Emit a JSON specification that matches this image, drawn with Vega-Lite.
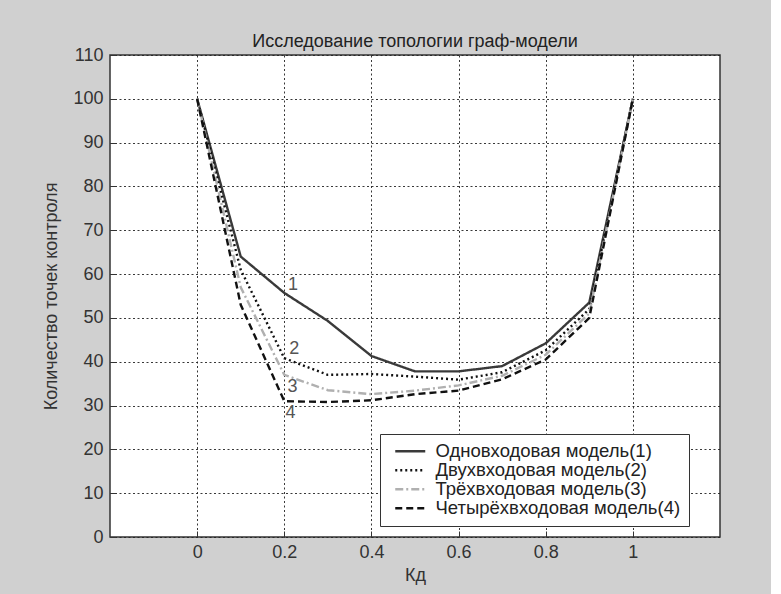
{
  "$schema": "https://vega.github.io/schema/vega-lite/v6.json",
  "width": 610,
  "height": 482,
  "autosize": {"type": "none"},
  "padding": {"left": 110, "top": 55, "right": 51, "bottom": 57},
  "background": "#d0d0d0",
  "title": {"text": "Исследование топологии граф-модели", "fontSize": 18, "font": "Liberation Sans", "fontWeight": "normal", "color": "#222222", "offset": -5},
  "config": {
    "font": "Liberation Sans",
    "view": {"fill": "white", "stroke": "#333333", "strokeWidth": 1.5},
    "axis": {
      "labelFontSize": 18, "titleFontSize": 18, "titleFontWeight": "normal",
      "labelColor": "#333333", "titleColor": "#333333", "domain": false,
      "grid": true, "gridColor": "#222222", "gridDash": [2, 2.5], "gridOpacity": 0.9, "gridWidth": 1,
      "tickColor": "#333333", "tickSize": -6, "tickWidth": 1
    }
  },
  "datasets": {
    "lines": [
      {"x": 0, "y": 100, "s": "Одновходовая модель(1)"},
      {"x": 0.1, "y": 64, "s": "Одновходовая модель(1)"},
      {"x": 0.2, "y": 55.7, "s": "Одновходовая модель(1)"},
      {"x": 0.3, "y": 49.3, "s": "Одновходовая модель(1)"},
      {"x": 0.4, "y": 41.3, "s": "Одновходовая модель(1)"},
      {"x": 0.5, "y": 37.8, "s": "Одновходовая модель(1)"},
      {"x": 0.6, "y": 37.8, "s": "Одновходовая модель(1)"},
      {"x": 0.7, "y": 39, "s": "Одновходовая модель(1)"},
      {"x": 0.8, "y": 44.2, "s": "Одновходовая модель(1)"},
      {"x": 0.9, "y": 53.5, "s": "Одновходовая модель(1)"},
      {"x": 1, "y": 100, "s": "Одновходовая модель(1)"},
      {"x": 0, "y": 100, "s": "Двухвходовая модель(2)"},
      {"x": 0.1, "y": 61, "s": "Двухвходовая модель(2)"},
      {"x": 0.2, "y": 40.8, "s": "Двухвходовая модель(2)"},
      {"x": 0.3, "y": 37, "s": "Двухвходовая модель(2)"},
      {"x": 0.4, "y": 37.2, "s": "Двухвходовая модель(2)"},
      {"x": 0.5, "y": 36.6, "s": "Двухвходовая модель(2)"},
      {"x": 0.6, "y": 35.9, "s": "Двухвходовая модель(2)"},
      {"x": 0.7, "y": 37.6, "s": "Двухвходовая модель(2)"},
      {"x": 0.8, "y": 42.6, "s": "Двухвходовая модель(2)"},
      {"x": 0.9, "y": 52, "s": "Двухвходовая модель(2)"},
      {"x": 1, "y": 100, "s": "Двухвходовая модель(2)"},
      {"x": 0, "y": 100, "s": "Трёхвходовая модель(3)"},
      {"x": 0.1, "y": 57, "s": "Трёхвходовая модель(3)"},
      {"x": 0.2, "y": 37, "s": "Трёхвходовая модель(3)"},
      {"x": 0.3, "y": 33.5, "s": "Трёхвходовая модель(3)"},
      {"x": 0.4, "y": 32.6, "s": "Трёхвходовая модель(3)"},
      {"x": 0.5, "y": 33.4, "s": "Трёхвходовая модель(3)"},
      {"x": 0.6, "y": 34.6, "s": "Трёхвходовая модель(3)"},
      {"x": 0.7, "y": 36.8, "s": "Трёхвходовая модель(3)"},
      {"x": 0.8, "y": 41.6, "s": "Трёхвходовая модель(3)"},
      {"x": 0.9, "y": 51, "s": "Трёхвходовая модель(3)"},
      {"x": 1, "y": 100, "s": "Трёхвходовая модель(3)"},
      {"x": 0, "y": 100, "s": "Четырёхвходовая модель(4)"},
      {"x": 0.1, "y": 53, "s": "Четырёхвходовая модель(4)"},
      {"x": 0.2, "y": 31, "s": "Четырёхвходовая модель(4)"},
      {"x": 0.3, "y": 30.8, "s": "Четырёхвходовая модель(4)"},
      {"x": 0.4, "y": 31.2, "s": "Четырёхвходовая модель(4)"},
      {"x": 0.5, "y": 32.6, "s": "Четырёхвходовая модель(4)"},
      {"x": 0.6, "y": 33.4, "s": "Четырёхвходовая модель(4)"},
      {"x": 0.7, "y": 36, "s": "Четырёхвходовая модель(4)"},
      {"x": 0.8, "y": 40.5, "s": "Четырёхвходовая модель(4)"},
      {"x": 0.9, "y": 50, "s": "Четырёхвходовая модель(4)"},
      {"x": 1, "y": 100, "s": "Четырёхвходовая модель(4)"}
    ],
    "labels": [
      {"x": 0.22, "y": 57.5, "t": "1"},
      {"x": 0.223, "y": 43, "t": "2"},
      {"x": 0.219, "y": 34.2, "t": "3"},
      {"x": 0.214, "y": 28.3, "t": "4"}
    ]
  },
  "layer": [
    {
      "data": {"name": "lines"},
      "mark": {"type": "line", "strokeWidth": 2.4},
      "encoding": {
        "x": {"field": "x", "type": "quantitative", "scale": {"domain": [-0.2, 1.2], "nice": false, "zero": false},
              "axis": {"values": [0, 0.2, 0.4, 0.6, 0.8, 1], "format": "~g", "title": "Кд", "labelPadding": 12, "titlePadding": 5}},
        "y": {"field": "y", "type": "quantitative", "scale": {"domain": [0, 110], "nice": false},
              "axis": {"values": [0, 10, 20, 30, 40, 50, 60, 70, 80, 90, 100, 110], "title": "Количество точек контроля", "labelPadding": 13, "titlePadding": 12}},
        "color": {"field": "s", "type": "nominal",
          "scale": {"domain": ["Одновходовая модель(1)", "Двухвходовая модель(2)", "Трёхвходовая модель(3)", "Четырёхвходовая модель(4)"],
                    "range": ["#3a3a3a", "#111111", "#b0b0b0", "#111111"]},
          "legend": {"orient": "none", "legendX": 270, "legendY": 379, "title": null, "fillColor": "white", "strokeColor": "#333333", "padding": 8,
                     "labelFontSize": 18.5, "labelColor": "#222222", "symbolType": "M-3,0H3", "symbolSize": 100, "symbolStrokeWidth": 2.4,
                     "symbolOffset": 13, "labelOffset": 16, "rowPadding": 0, "labelLimit": 400}},
        "strokeDash": {"field": "s", "type": "nominal",
          "scale": {"domain": ["Одновходовая модель(1)", "Двухвходовая модель(2)", "Трёхвходовая модель(3)", "Четырёхвходовая модель(4)"],
                    "range": [[1, 0], [2, 3], [8, 3, 2, 3], [7, 4]]},
          "legend": {"orient": "none", "legendX": 270, "legendY": 379, "title": null, "fillColor": "white", "strokeColor": "#333333", "padding": 8,
                     "labelFontSize": 18.5, "labelColor": "#222222", "symbolType": "M-3,0H3", "symbolSize": 100, "symbolStrokeWidth": 2.4,
                     "symbolOffset": 13, "labelOffset": 16, "rowPadding": 0, "labelLimit": 400}}
      }
    },
    {
      "data": {"name": "labels"},
      "mark": {"type": "text", "fontSize": 18, "color": "#555555"},
      "encoding": {
        "x": {"field": "x", "type": "quantitative"},
        "y": {"field": "y", "type": "quantitative"},
        "text": {"field": "t"}
      }
    }
  ]
}
